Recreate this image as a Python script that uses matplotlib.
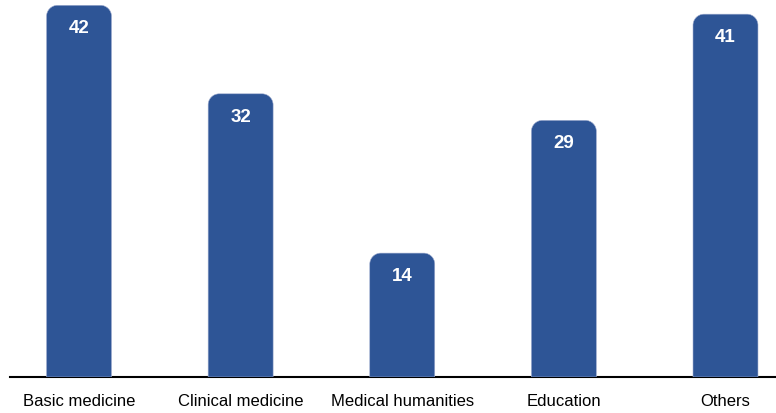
import matplotlib
matplotlib.use("Agg")
import matplotlib.pyplot as plt
from matplotlib.path import Path
from matplotlib.patches import PathPatch

categories = ["Basic medicine", "Clinical medicine", "Medical humanities", "Education", "Others"]
values = [42, 32, 14, 29, 41]

BAR_COLOR = "#2E5596"

fig = plt.figure(figsize=(7.76, 4.13), dpi=100)
ax = fig.add_axes([10 / 776, 36 / 413, 766 / 776, 377 / 413])
ax.set_xlim(-0.427, 4.3125)
ax.set_ylim(0, 42.6)

bars = ax.bar(range(len(values)), values, width=0.402, color=BAR_COLOR)

# Convert corner radius (pixels) into data units
fig.canvas.draw()
r_px = 11
inv = ax.transData.inverted()
p0 = inv.transform((0, 0))
p1 = inv.transform((r_px, r_px))
rx, ry = p1[0] - p0[0], p1[1] - p0[1]
k = 0.5523

for b in bars:
    x0, w, h = b.get_x(), b.get_width(), b.get_height()
    x1 = x0 + w
    verts = [
        (x0, 0), (x0, h - ry),
        (x0, h - ry + k * ry), (x0 + rx - k * rx, h), (x0 + rx, h),
        (x1 - rx, h),
        (x1 - rx + k * rx, h), (x1, h - ry + k * ry), (x1, h - ry),
        (x1, 0), (x0, 0),
    ]
    codes = [Path.MOVETO, Path.LINETO,
             Path.CURVE4, Path.CURVE4, Path.CURVE4,
             Path.LINETO,
             Path.CURVE4, Path.CURVE4, Path.CURVE4,
             Path.LINETO, Path.CLOSEPOLY]
    patch = PathPatch(Path(verts, codes), facecolor=BAR_COLOR,
                      edgecolor="#a0add0", linewidth=0.4, zorder=3)
    ax.add_patch(patch)
    b.set_visible(False)
    ax.annotate(str(int(h)), (b.get_x() + w / 2, h), xytext=(0, -17),
                textcoords="offset points", ha="center", va="center",
                color="white", fontsize=13.5, fontweight="bold",
                family="Liberation Sans", zorder=4)

for s in ["top", "right", "left"]:
    ax.spines[s].set_visible(False)
ax.spines["bottom"].set_color("black")
ax.spines["bottom"].set_linewidth(1.5)
ax.set_yticks([])
ax.set_xticks(range(len(categories)))
ax.set_xticklabels(categories, fontsize=12, family="Liberation Sans")
ax.tick_params(axis="x", length=0, pad=12)

fig.savefig("out.png", dpi=100)
